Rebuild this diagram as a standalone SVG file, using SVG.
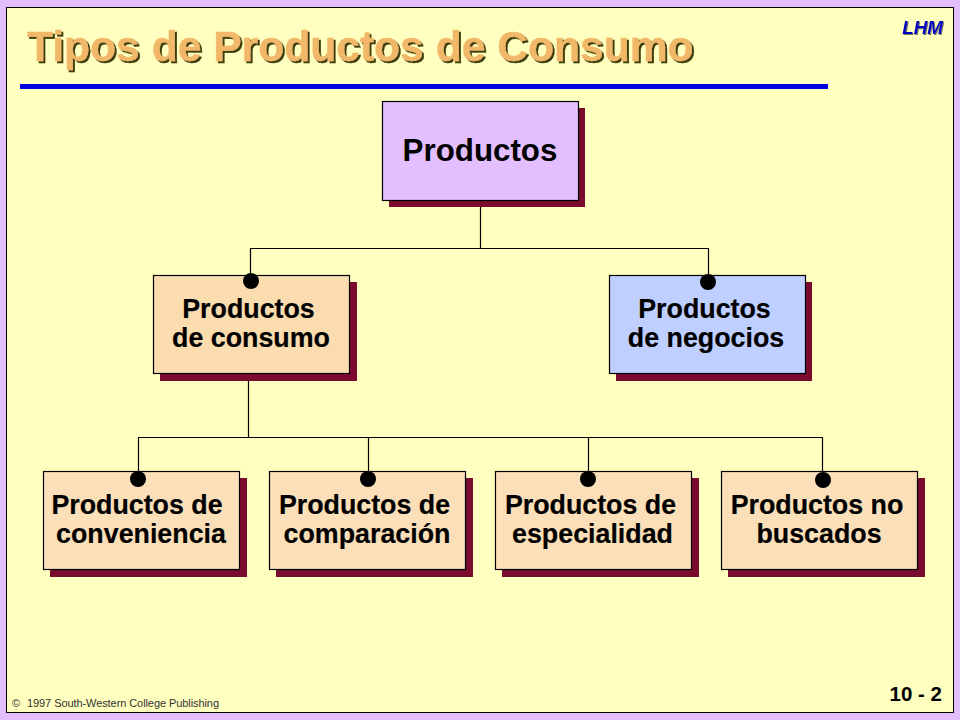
<svg xmlns="http://www.w3.org/2000/svg" width="960" height="720" viewBox="0 0 960 720">
<style>
text{font-family:"Liberation Sans",Arial,sans-serif;font-weight:bold;fill:#000}
.box{stroke:#000;stroke-width:1.2}
.sh{fill:#7a0a2e}
.t{font-size:26.800px;text-anchor:middle;stroke:#000;stroke-width:0.2}
.c{fill:none;stroke:#000;stroke-width:1.2}
.peach{fill:#fbdcae}
.small{fill:#fbdfb8}
</style>
<defs>
<filter id="ts" x="-5%" y="-20%" width="110%" height="140%"><feDropShadow dx="2" dy="2" stdDeviation="0.4" flood-color="#3d3d10"/></filter>
<filter id="ls" x="-10%" y="-20%" width="125%" height="150%"><feDropShadow dx="1" dy="1" stdDeviation="0.3" flood-color="#777760"/></filter>
</defs>
<rect width="960" height="720" fill="#e3bfff"/>
<rect x="6.500" y="7.500" width="947" height="705" fill="#ffffc0" stroke="#000" stroke-width="1"/>
<g id="title">
<text x="27" y="61" font-size="42.600" filter="url(#ts)" style="fill:#f0b868;stroke:#f0b868;stroke-width:0.4">Tipos de Productos de Consumo</text>
<rect x="20" y="84" width="808" height="5" fill="#0000e0"/>
</g>
<g id="connectors">
<path class="c" d="M480.500 200V248.500M250.500 275V248.500H708.500V275"/>
<path class="c" d="M248.500 374V437.500M138.500 472V437.500H822.500V472M368.500 437.500V472M588.500 437.500V472"/>
</g>
<g id="n-productos">
<rect class="sh" x="389" y="108" width="196" height="99"/>
<rect class="box" x="382.500" y="101.500" width="196" height="99" fill="#e3bfff"/>
<text x="480" y="160.500" font-size="31.300" text-anchor="middle">Productos</text>
</g>
<g id="n-consumo">
<rect class="sh" x="160" y="282" width="197" height="99"/>
<rect class="box peach" x="153.500" y="275.500" width="196" height="98"/>
<circle cx="251" cy="281" r="8"/>
<text class="t" x="248.500" y="318">Productos</text>
<text class="t" x="251" y="347">de consumo</text>
</g>
<g id="n-negocios">
<rect class="sh" x="616" y="282" width="196" height="99"/>
<rect class="box" x="609.500" y="275.500" width="196" height="98" fill="#bfcfff"/>
<circle cx="708" cy="282" r="8"/>
<text class="t" x="704.500" y="318">Productos</text>
<text class="t" x="706" y="347">de negocios</text>
</g>
<g id="n-conveniencia">
<rect class="sh" x="50" y="478" width="197" height="99"/>
<rect class="box small" x="43.500" y="471.500" width="196" height="98"/>
<circle cx="138" cy="479" r="8"/>
<text class="t" x="137" y="514">Productos de</text>
<text class="t" x="141" y="543">conveniencia</text>
</g>
<g id="n-comparacion">
<rect class="sh" x="276" y="478" width="197" height="99"/>
<rect class="box small" x="269.500" y="471.500" width="196" height="98"/>
<circle cx="368" cy="479" r="8"/>
<text class="t" x="364.500" y="514">Productos de</text>
<text class="t" x="367" y="543">comparación</text>
</g>
<g id="n-especialidad">
<rect class="sh" x="502" y="478" width="197" height="99"/>
<rect class="box small" x="495.500" y="471.500" width="196" height="98"/>
<circle cx="588" cy="479" r="8"/>
<text class="t" x="590.500" y="514">Productos de</text>
<text class="t" x="592.500" y="543">especialidad</text>
</g>
<g id="n-buscados">
<rect class="sh" x="728" y="478" width="197" height="99"/>
<rect class="box small" x="721.500" y="471.500" width="196" height="98"/>
<circle cx="823" cy="480" r="8"/>
<text class="t" x="817" y="514">Productos no</text>
<text class="t" x="819" y="543">buscados</text>
</g>
<text x="943" y="34" font-size="18.800" text-anchor="end" font-style="italic" filter="url(#ls)" style="fill:#0000c0">LHM</text>
<text x="942" y="701" font-size="20.500" text-anchor="end">10 - 2</text>
<text x="12" y="706.500" font-size="11" style="font-weight:normal;fill:#333">©</text>
<text x="27" y="706.500" font-size="11" textLength="192" lengthAdjust="spacing" style="font-weight:normal;fill:#333">1997 South-Western College Publishing</text>
</svg>
